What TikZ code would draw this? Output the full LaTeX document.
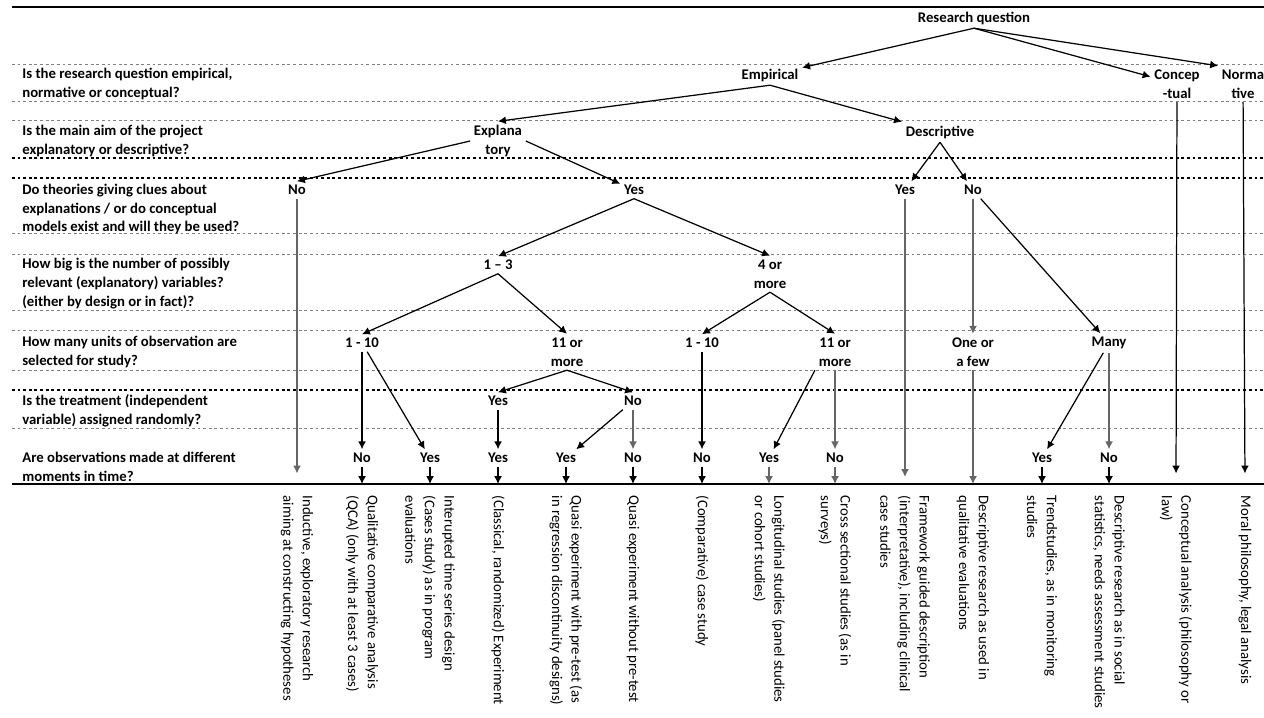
\documentclass[tikz,border=0pt]{standalone}
\usepackage{fontspec}
\setmainfont{Carlito}
\usetikzlibrary{arrows.meta}
\newcommand{\questfont}{\fontsize{8.4}{10.8}\selectfont\bfseries}
\newcommand{\resfont}{\fontsize{8.4}{11.2}\selectfont}

\begin{document}
\begin{tikzpicture}[x=0.02cm, y=-0.02cm, >={Latex[length=4.5pt, width=4.5pt]},
    question/.style={anchor=west, align=left, inner sep=0pt, font=\questfont},
    answer/.style={align=center, inner sep=2pt, font=\questfont},
    result/.style={rotate=-90, anchor=west, align=left, inner xsep=6.5pt, inner ysep=0pt, font=\resfont},
    arrowline/.style={->, line width=0.7pt},
    greyline/.style={->, line width=0.7pt, black!60},
    rowline/.style={black!50, dash pattern=on 1.6pt off 1.6pt, line width=0.4pt},
    boldrow/.style={black, dash pattern=on 1.6pt off 1.6pt, line width=0.6pt}]
    \useasboundingbox (0, 0) rectangle (1264, 717);
    % frame lines
    \draw[line width=1.1pt] (12, 7) -- (1264, 7);
    \draw[line width=0.9pt] (12, 484) -- (1264, 484);
    % row separators
    \draw[rowline] (12, 64) -- (1264, 64);
    \draw[rowline] (12, 101) -- (1264, 101);
    \draw[rowline] (12, 120) -- (1264, 120);
    \draw[boldrow] (12, 158) -- (1264, 158);
    \draw[boldrow] (12, 178) -- (1264, 178);
    \draw[rowline] (12, 233) -- (1264, 233);
    \draw[rowline] (12, 254) -- (1264, 254);
    \draw[rowline] (12, 310) -- (1264, 310);
    \draw[rowline] (12, 330) -- (1264, 330);
    \draw[rowline] (12, 370) -- (1264, 370);
    \draw[boldrow] (12, 390) -- (1264, 390);
    \draw[rowline] (12, 428) -- (1264, 428);
    % questions
    \node[question] (q1) at (22, 84) {Is the research question empirical,\\normative or conceptual?};
    \node[question] (q2) at (22, 141) {Is the main aim of the project\\explanatory or descriptive?};
    \node[question] (q3) at (22, 209) {Do theories giving clues about\\explanations / or do conceptual\\models exist and will they be used?};
    \node[question] (q4) at (22, 284) {How big is the number of possibly\\relevant (explanatory) variables?\\(either by design or in fact)?};
    \node[question] (q5) at (22, 352) {How many units of observation are\\selected for study?};
    \node[question] (q6) at (22, 411) {Is the treatment (independent\\variable) assigned randomly?};
    \node[question] (q7) at (22, 467) {Are observations made at different\\moments in time?};
    % answers, top
    \node[answer] (rq) at (974, 18) {Research question};
    \node[answer] (emp) at (770, 75) {Empirical};
    \node[answer] (con) at (1177, 84) {Concep\\-tual};
    \node[answer] (nor) at (1243, 84) {Norma\\tive};
    \node[answer] (expl) at (498, 141) {Explana\\tory};
    \node[answer] (desc) at (940, 132) {Descriptive};
    % answers, theories
    \node[answer] (no3) at (297, 190) {No};
    \node[answer] (yes3) at (634, 190) {Yes};
    \node[answer] (dyes) at (905, 190) {Yes};
    \node[answer] (dno) at (973, 190) {No};
    % answers, variables
    \node[answer] (few) at (498, 265) {1 – 3};
    \node[answer] (more) at (770, 274) {4 or\\more};
    % answers, units
    \node[answer] (ua) at (362, 343) {1 - 10};
    \node[answer] (ub) at (567, 352) {11 or\\more};
    \node[answer] (uc) at (702, 343) {1 - 10};
    \node[answer] (ud) at (835, 352) {11 or\\more};
    \node[answer] (ue) at (973, 352) {One or\\a few};
    \node[answer] (uf) at (1109, 343) {Many};
    % answers, treatment
    \node[answer] (ta) at (498, 401) {Yes};
    \node[answer] (tb) at (633, 401) {No};
    % answers, time
    \node[answer] (o1) at (362, 458) {No};
    \node[answer] (o2) at (430, 458) {Yes};
    \node[answer] (o3) at (498, 458) {Yes};
    \node[answer] (o4) at (566, 458) {Yes};
    \node[answer] (o5) at (633, 458) {No};
    \node[answer] (o6) at (702, 458) {No};
    \node[answer] (o7) at (769, 458) {Yes};
    \node[answer] (o8) at (835, 458) {No};
    \node[answer] (o9) at (1042, 458) {Yes};
    \node[answer] (o10) at (1109, 458) {No};
    % ends on the bottom line
    \coordinate (e1) at (297, 484);
    \coordinate (e2) at (362, 484);
    \coordinate (e3) at (430, 484);
    \coordinate (e4) at (498, 484);
    \coordinate (e5) at (566, 484);
    \coordinate (e6) at (633, 484);
    \coordinate (e7) at (702, 484);
    \coordinate (e8) at (769, 484);
    \coordinate (e9) at (835, 484);
    \coordinate (e10) at (905, 484);
    \coordinate (e11) at (973, 484);
    \coordinate (e12) at (1042, 484);
    \coordinate (e13) at (1109, 484);
    \coordinate (e14) at (1176, 484);
    \coordinate (e15) at (1245, 484);
    % designs
    \node[result] (r1) at (e1) {Inductive, exploratory research\\aiming at constructing hypotheses};
    \node[result] (r2) at (e2) {Qualitative comparative analysis\\(QCA) (only with at least 3 cases)};
    \node[result] (r3) at (e3) {Interupted time series design\\(Cases study) as in program\\evaluations};
    \node[result] (r4) at (e4) {(Classical, randomized) Experiment};
    \node[result] (r5) at (e5) {Quasi experiment with pre-test (as\\in regression discontinuity designs)};
    \node[result] (r6) at (e6) {Quasi experiment without pre-test};
    \node[result] (r7) at (e7) {(Comparative) case study};
    \node[result] (r8) at (e8) {Longitudinal studies (panel studies\\or cohort studies)};
    \node[result] (r9) at (e9) {Cross sectional studies (as in\\surveys)};
    \node[result] (r10) at (e10) {Framework guided description\\(interpretative), including clinical\\case studies};
    \node[result] (r11) at (e11) {Descriptive research as used in\\qualitative evaluations};
    \node[result] (r12) at (e12) {Trendstudies, as in monitoring\\studies};
    \node[result] (r13) at (e13) {Descriptive research as in social\\statistics, needs assessment studies};
    \node[result] (r14) at (e14) {Conceptual analysis (philosophy or\\law)};
    \node[result] (r15) at (e15) {Moral philosophy, legal analysis};
    % research question
    \draw[arrowline] (rq.south) -- (emp);
    \draw[arrowline] (rq.south) -- (con);
    \draw[arrowline] (rq.south) -- (nor.north west);
    \draw[arrowline, shorten >=6pt] (con) -- (e14);
    \draw[arrowline, shorten >=6pt] (nor) -- (e15);
    % empirical
    \draw[arrowline] (emp.south) -- (expl.north);
    \draw[arrowline] (emp.south) -- (desc.north west);
    % explanatory
    \draw[arrowline] (expl.west) -- (no3.north);
    \draw[arrowline] (expl.east) -- (yes3);
    \draw[greyline, shorten >=6pt] (no3) -- (e1);
    % descriptive
    \draw[arrowline] (desc.south) -- (dyes);
    \draw[arrowline] (desc.south) -- (dno);
    \draw[greyline, shorten >=4pt] (dyes) -- (e10);
    \draw[greyline] (dno) -- (ue);
    \draw[arrowline] (dno) -- (uf);
    \draw[greyline] (ue) -- (e11);
    % variables
    \draw[arrowline] (yes3.south) -- (few.north);
    \draw[arrowline] (yes3.south) -- (more.north);
    \draw[arrowline] (few.south) -- (ua.north);
    \draw[arrowline] (few.south) -- (ub.north);
    \draw[arrowline] (more.south) -- (uc.north);
    \draw[arrowline] (more.south) -- (ud.north);
    % units
    \draw[arrowline] (ua) -- (o1);
    \draw[arrowline] (ua) -- (o2);
    \draw[arrowline] (ub.south) -- (ta.north);
    \draw[arrowline] (ub.south) -- (tb.north);
    \draw[arrowline] (uc) -- (o6);
    \draw[arrowline] (ud.south west) -- (o7);
    \draw[greyline] (ud) -- (o8);
    \draw[arrowline] (uf) -- (o9);
    \draw[greyline] (uf) -- (o10);
    % treatment
    \draw[arrowline] (ta) -- (o3);
    \draw[arrowline] (tb) -- (o4);
    \draw[greyline] (tb) -- (o5);
    % time
    \draw[arrowline] (o1) -- (e2);
    \draw[arrowline] (o2) -- (e3);
    \draw[arrowline] (o3) -- (e4);
    \draw[arrowline] (o4) -- (e5);
    \draw[arrowline] (o5) -- (e6);
    \draw[arrowline] (o6) -- (e7);
    \draw[greyline] (o7) -- (e8);
    \draw[greyline] (o8) -- (e9);
    \draw[arrowline] (o9) -- (e12);
    \draw[arrowline] (o10) -- (e13);
\end{tikzpicture}
\end{document}
